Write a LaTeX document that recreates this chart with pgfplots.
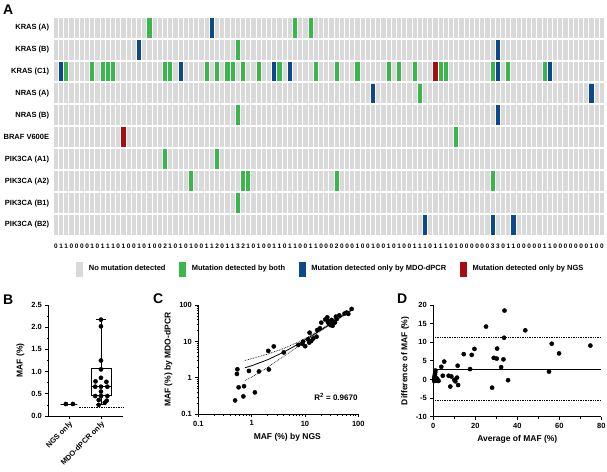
\documentclass[border=0pt]{standalone}
\usepackage{fontspec}
\setmainfont{Liberation Sans}
\usepackage{pgfplots}
\pgfplotsset{compat=1.18}
\usepgfplotslibrary{statistics}
\definecolor{cgrey}{RGB}{217,217,217}
\definecolor{cgreen}{RGB}{58,183,74}
\definecolor{cblue}{RGB}{12,72,140}
\definecolor{cred}{RGB}{168,12,16}
\pgfdeclareplotmark{cell}{\pgfpathrectangle{\pgfpoint{-2.1pt}{-9.95pt}}{\pgfpoint{4.2pt}{19.9pt}}\pgfusepathqfill}
\pgfplotsset{
  lowerpanel/.style={
    scale only axis, anchor=south west,
    axis x line=bottom, axis y line=left,
    axis line style={-, line width=0.8pt, black},
    tick align=outside, major tick length=3pt, minor tick length=1.8pt,
    tick style={line width=0.8pt, black},
    /pgf/number format/assume math mode=true,
    tick label style={font=\bfseries\fontsize{7.5}{8}\selectfont},
    label style={font=\bfseries\fontsize{8.5}{9}\selectfont},
    clip=false,
  }
}
\begin{document}
\begin{tikzpicture}[x=1pt,y=1pt]
\useasboundingbox (0,0) rectangle (607,471);
\node[font=\bfseries\fontsize{14}{14}\selectfont, anchor=north west, inner sep=0pt] at (3,466) {A};
\node[font=\bfseries\fontsize{14}{14}\selectfont, anchor=north west, inner sep=0pt] at (3,176) {B};
\node[font=\bfseries\fontsize{14}{14}\selectfont, anchor=north west, inner sep=0pt] at (153,177) {C};
\node[font=\bfseries\fontsize{14}{14}\selectfont, anchor=north west, inner sep=0pt] at (397,177) {D};

% ---------------- Panel A ----------------
\begin{axis}[
  at={(53.3pt,235pt)}, anchor=south west, scale only axis,
  width=551.2pt, height=219.3pt,
  xmin=-0.5, xmax=105.5, ymin=-0.5, ymax=9.5, y dir=reverse,
  axis background/.style={fill=cgrey},
  axis line style={draw=none},
  xtick={0,...,105},
  xticklabels={0,1,1,0,0,0,0,1,0,1,
               1,1,0,1,0,0,1,0,1,0,
               0,2,1,0,1,0,1,0,0,1,
               1,2,0,1,1,3,2,1,0,1,
               0,0,1,1,0,1,1,0,0,1,
               1,0,0,0,2,0,0,0,1,0,
               0,1,0,0,1,0,1,0,0,1,
               1,1,0,1,1,1,0,1,0,0,
               0,0,0,0,3,3,0,1,1,0,
               0,0,0,0,1,1,0,0,0,0,
               0,0,0,1,0,0},
  ytick={0,...,9},
  yticklabels={KRAS (A),KRAS (B),KRAS (C1),NRAS (A),NRAS (B),BRAF V600E,PIK3CA (A1),PIK3CA (A2),PIK3CA (B1),PIK3CA (B2)},
  minor xtick={-0.5,0.5,...,105.5},
  minor ytick={-0.5,0.5,...,9.5},
  xminorgrids, yminorgrids,
  minor x grid style={white, line width=1pt},
  minor y grid style={white, line width=2pt},
  major tick length=0pt, minor tick length=0pt,
  xticklabel style={font=\bfseries\fontsize{6.5}{7}\selectfont, inner sep=0pt, yshift=-8pt},
  yticklabel style={font=\bfseries\fontsize{7.5}{9}\selectfont, inner sep=0pt, xshift=-4pt},
  legend columns=4,
  legend cell align=left,
  legend image code/.code={\fill[#1] (0pt,-7pt) rectangle (6pt,7pt); \path (12.3pt,0pt);},
  legend style={draw=none, fill=none, inner sep=0pt,
    at={(axis description cs:0.0412,-0.1505)}, anchor=west,
    font=\bfseries\fontsize{7.5}{9}\selectfont,
    nodes={inner sep=0pt},
    /tikz/every even column/.append style={column sep=13.5pt}},
]
\addlegendimage{color=cgrey}
\addlegendentry{No mutation detected}
\addplot[only marks, mark=cell, color=cgreen] coordinates {
 (18,0) (46,0) (49,0)
 (35,1)
 (2,2) (7,2) (9,2) (10,2) (11,2) (21,2) (22,2) (29,2) (31,2) (33,2) (34,2) (36,2) (39,2)
 (43,2) (50,2) (54,2) (58,2) (64,2) (66,2) (69,2) (74,2) (75,2) (84,2) (87,2) (94,2)
 (70,3)
 (35,4)
 (77,5)
 (21,6) (31,6)
 (26,7) (36,7) (37,7) (54,7) (84,7)
 (35,8)
};
\addlegendentry{Mutation detected by both}
\addplot[only marks, mark=cell, color=cblue] coordinates {
 (30,0)
 (16,1) (85,1)
 (1,2) (24,2) (42,2) (45,2) (85,2) (95,2)
 (61,3) (103,3)
 (85,4)
 (71,9) (84,9) (88,9)
};
\addlegendentry{Mutation detected only by MDO-dPCR}
\addplot[only marks, mark=cell, color=cred] coordinates {
 (73,2) (13,5)
};
\addlegendentry{Mutation detected only by NGS}
\end{axis}

% ---------------- Panel B ----------------
\begin{axis}[lowerpanel,
  at={(48.3pt,55pt)}, width=75pt, height=111pt,
  xmin=0.35, xmax=2.7, ymin=0, ymax=2.5,
  boxplot/draw direction=y,
  boxplot/every box/.style={draw=black, fill=white},
  xtick={1,2}, xticklabels={NGS only, MDO-dPCR only},
  xticklabel style={rotate=45, anchor=north east, inner sep=1pt},
  ytick={0,0.5,1,1.5,2,2.5}, minor y tick num=1,
  yticklabel style={/pgf/number format/.cd, fixed, fixed zerofill, precision=1},
  ylabel={MAF (\%)},
]
\addplot[densely dotted, line width=0.7pt] coordinates {(1.3,0.2) (2.7,0.2)};
\addplot[black, line width=0.8pt, boxplot prepared={draw position=1, lower whisker=0.27, lower quartile=0.27, median=0.27, upper quartile=0.27, upper whisker=0.27, box extend=0.52, whisker extend=0.52}] coordinates {};
\addplot[black, line width=0.8pt, boxplot prepared={draw position=2, lower whisker=0.26, lower quartile=0.46, median=0.67, upper quartile=1.07, upper whisker=2.17, box extend=0.63, whisker extend=0.3}] coordinates {};
\addplot[only marks, mark=*, mark size=2.1pt, black] coordinates {
 (0.9,0.27) (1.12,0.27)
 (2.0,2.17) (2.0,2.02) (2.0,1.25) (2.0,1.05) (2.0,0.86) (1.83,0.78) (2.17,0.77)
 (1.82,0.66) (2.0,0.66) (2.2,0.66) (2.0,0.55) (1.82,0.45) (2.0,0.45) (2.2,0.45)
 (1.93,0.36) (2.18,0.345) (2.12,0.30) (1.93,0.25)
};
\end{axis}

% ---------------- Panel C ----------------
\begin{axis}[lowerpanel,
  at={(198.3pt,56.7pt)}, width=160pt, height=109.3pt,
  xmode=log, ymode=log,
  xmin=0.1, xmax=100, ymin=0.1, ymax=100,
  log ticks with fixed point,
  xlabel={MAF (\%) by NGS}, ylabel={MAF (\%) by MDO-dPCR},
  xlabel style={xshift=9pt},
]
\addplot[densely dotted, line width=0.7pt] coordinates {(0.75,3.0) (1,3.35) (2,4.5) (4,6.4) (7,9.2) (10,12) (20,21.5) (40,41.3) (75,76.5)};
\addplot[densely dotted, line width=0.7pt] coordinates {(0.75,0.85) (1,1.05) (2,1.95) (4,3.9) (7,6.9) (10,9.9) (20,19.7) (40,38.7) (75,71.5)};
\addplot[solid, line width=0.8pt] coordinates {(0.75,1.9) (1,2.15) (2,3.15) (4,5.1) (7,8) (10,11) (20,20.6) (40,40) (75,74)};
\addplot[only marks, mark=*, mark size=2.1pt, black] coordinates {
 (0.49,0.24) (0.54,1.72) (0.53,1.28) (0.57,0.55) (0.72,0.59) (0.70,0.31) (0.89,1.55)
 (1.15,0.40) (1.37,1.50) (2.05,5.5) (2.1,1.7) (2.6,7.3) (4.0,5.0)
 (7.5,8.0) (9.2,9.9) (10.1,7.4) (11.4,11.4) (12.2,17.4) (13.1,10.3) (14.3,12) (9,8.5) (12,9.3)
 (16.5,13.5) (17,20.6) (19.1,23) (20.2,32.8) (24,40) (26.2,45.9) (27,33) (28,36) (29.4,30)
 (30,28) (31.6,38.8) (34,35) (33,27) (36.5,33) (38,48) (39.3,41) (44,52) (55,58)
 (60,62) (65,57) (75,78)
};
\node[font=\bfseries\fontsize{8}{9}\selectfont] at (axis cs:38,0.3) {R\textsuperscript{2} = 0.9670};
\end{axis}

% ---------------- Panel D ----------------
\begin{axis}[lowerpanel,
  at={(433.3pt,54.3pt)}, width=168pt, height=111.7pt,
  xmin=0, xmax=80, ymin=-10, ymax=20,
  xtick={0,20,40,60,80}, minor x tick num=1,
  ytick={-10,-5,0,5,10,15,20},
  xlabel={Average of MAF (\%)}, ylabel={Difference of MAF (\%)},
]
\addplot[densely dotted, line width=0.7pt] coordinates {(0,11.3) (80,11.3)};
\addplot[densely dotted, line width=0.7pt] coordinates {(0,-5.5) (80,-5.5)};
\addplot[solid, line width=0.9pt] coordinates {(0,2.8) (80,2.8)};
\addplot[only marks, mark=*, mark size=2.1pt, black] coordinates {
 (25.1,14.2) (33.9,18.5) (43.8,13.2) (33.7,11.2) (56.4,9.6) (74.8,9.1) (59.9,7.0) (55.1,2.1)
 (19.6,8.2) (14.5,6.8) (18.3,6.6) (17.5,2.8) (11.6,3.7) (5.2,4.8) (3.8,3.4) (4.5,1.0)
 (7.3,1.0) (8.6,0.8) (8.1,-1.9) (10,-0.1) (11.3,0.5) (11.8,-1.5) (10.5,-0.5)
 (28.8,5.8) (30.2,5.6) (30.4,8.3) (33.4,5.4) (32.3,3.3) (28.0,-2.2) (35.6,-0.2)
 (0.3,0.0) (0.5,0.4) (0.6,0.9) (0.8,1.4) (0.9,1.9) (1.0,2.4) (1.2,0.5) (1.5,-0.3)
 (1.8,0.2) (2.2,-0.2) (0.4,-0.4) (1.0,0.1) (2.5,-0.4) (0.7,-0.2)
};
\end{axis}
\end{tikzpicture}
\end{document}
